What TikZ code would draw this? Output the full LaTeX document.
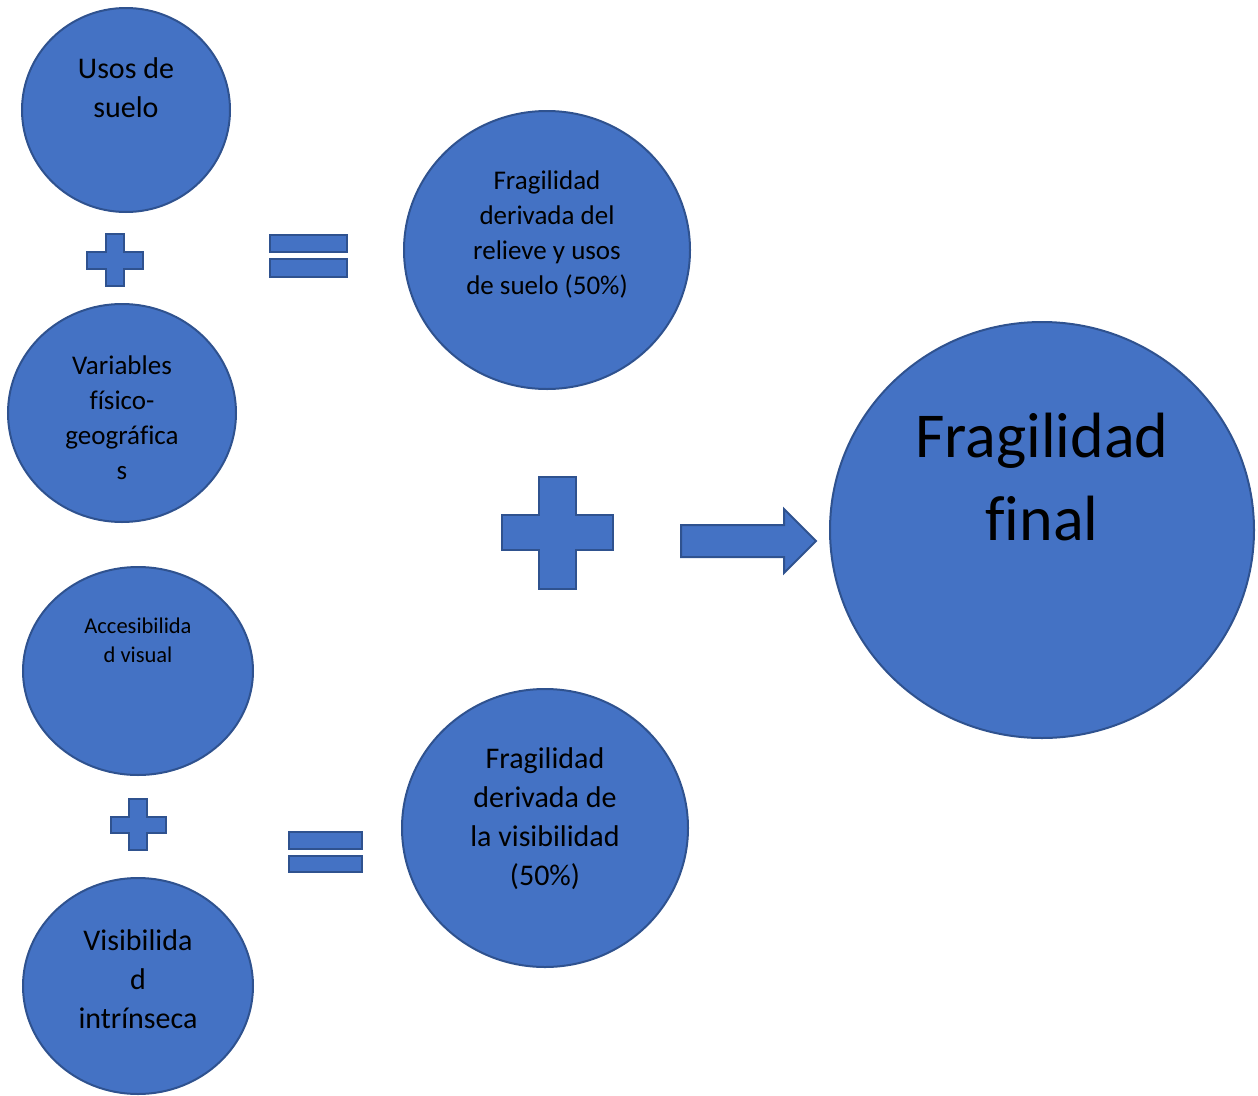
\documentclass[tikz,border=0pt]{standalone}
\usepackage{fontspec}
\setmainfont{Carlito}[Ligatures=NoCommon]
\usepackage{tikz}
\definecolor{azulfondo}{RGB}{68,114,196}
\definecolor{azulborde}{RGB}{47,82,143}

\begin{document}
\begin{tikzpicture}[x=1pt,y=1pt,yscale=-1,xscale=1,
  bubble/.style={draw=azulborde,fill=azulfondo,line width=2pt},
  signo/.style={draw=azulborde,fill=azulfondo,line width=2pt,line join=miter},
  rotulo/.style={align=center,inner sep=0pt,text=black}]
\useasboundingbox (0,0) rectangle (1258,1095);

%Shape: Circle [id:usos]
\draw [bubble] (126,110) ellipse (104pt and 102pt);
%Shape: Circle [id:variables]
\draw [bubble] (122,413) ellipse (114pt and 109pt);
%Shape: Circle [id:relieve]
\draw [bubble] (547,250) ellipse (143pt and 139pt);
%Shape: Circle [id:final]
\draw [bubble] (1042,530) ellipse (212pt and 208pt);
%Shape: Circle [id:accesibilidad]
\draw [bubble] (138,671) ellipse (115pt and 104pt);
%Shape: Circle [id:visibilidad]
\draw [bubble] (138,986) ellipse (115pt and 108pt);
%Shape: Circle [id:visual]
\draw [bubble] (545,828) ellipse (143pt and 139pt);

%Shape: Cross [id:suma1]
\draw [signo] (106,234) -- (124,234) -- (124,252) -- (143,252) -- (143,269) -- (124,269) -- (124,286) -- (106,286) -- (106,269) -- (87,269) -- (87,252) -- (106,252) -- cycle ;
%Shape: Cross [id:suma2]
\draw [signo] (539,477) -- (576,477) -- (576,515) -- (613,515) -- (613,550) -- (576,550) -- (576,589) -- (539,589) -- (539,550) -- (502,550) -- (502,515) -- (539,515) -- cycle ;
%Shape: Cross [id:suma3]
\draw [signo] (129,799) -- (147,799) -- (147,817) -- (166,817) -- (166,833) -- (147,833) -- (147,850) -- (129,850) -- (129,833) -- (111,833) -- (111,817) -- (129,817) -- cycle ;

%Shape: Equal [id:igual1]
\draw [signo] (270,235) rectangle (347,252) ;
\draw [signo] (270,259) rectangle (347,277) ;
%Shape: Equal [id:igual2]
\draw [signo] (289,832) rectangle (362,849) ;
\draw [signo] (289,856) rectangle (362,872) ;

%Shape: Right Arrow [id:flecha]
\draw [signo] (681,525) -- (784,525) -- (784,509) -- (816,541) -- (784,573) -- (784,557) -- (681,557) -- cycle ;

% Text Node
\node [rotulo,font=\fontsize{30}{39}\selectfont] (tusos) at (126,88) {Usos de\\suelo};
% Text Node
\node [rotulo,font=\fontsize{27}{35}\selectfont] (tvariables) at (122,418) {Variables\\físico-\\geográfica\\s};
% Text Node
\node [rotulo,font=\fontsize{27}{35}\selectfont] (trelieve) at (547,234) {Fragilidad\\derivada del\\relieve y usos\\de suelo (50\%)};
% Text Node
\node [rotulo,font=\fontsize{64}{83}\selectfont] (tfinal) at (1042,477) {Fragilidad\\final};
% Text Node
\node [rotulo,font=\fontsize{22.5}{29}\selectfont] (taccesibilidad) at (138,640) {Accesibilida\\d visual};
% Text Node
\node [rotulo,font=\fontsize{30}{39}\selectfont] (tvisibilidad) at (138,979) {Visibilida\\d\\intrínseca};
% Text Node
\node [rotulo,font=\fontsize{30}{39}\selectfont] (tvisual) at (545,819) {Fragilidad\\derivada de\\la visibilidad\\(50\%)};

\end{tikzpicture}
\end{document}
